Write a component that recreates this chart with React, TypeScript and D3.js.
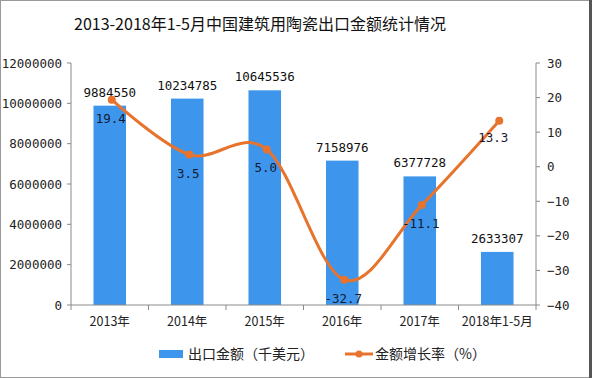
import React from "react";
import * as d3 from "d3";

const categories = ["2013年", "2014年", "2015年", "2016年", "2017年", "2018年1-5月"];
const exportValues = [9884550, 10234785, 10645536, 7158976, 6377728, 2633307];
const growthRates = [19.4, 3.5, 5.0, -32.7, -11.1, 13.3];
const leftTicks = [0, 2000000, 4000000, 6000000, 8000000, 10000000, 12000000];
const rightTicks = [-40, -30, -20, -10, 0, 10, 20, 30];
const rateLabelOffsets: [number, number][] = [[0, 0], [0, 0], [0, 0], [0, 0], [0, 0], [-5, -2]];

const W = 592, H = 378;
const L = 71, R = 536, T = 63, B = 305;
const numFont = "'DejaVu Sans Mono', 'Liberation Mono', monospace";
const cjkFont = "'Noto Sans CJK SC', 'Noto Sans', sans-serif";

export default function App() {
  const x = d3.scaleBand<string>().domain(categories).range([L, R]).paddingInner(0).paddingOuter(0);
  const yL = d3.scaleLinear().domain([0, 12000000]).range([B, T]);
  const yR = d3.scaleLinear().domain([-40, 30]).range([B, T]);
  const bw = x.bandwidth() * 0.42;
  const cx = (c: string) => (x(c) as number) + x.bandwidth() / 2;
  const pts: [number, number][] = categories.map((c, i) => [cx(c) + 2, yR(growthRates[i])]);
  const line = d3.line().curve(d3.curveCatmullRom.alpha(0))(pts) as string;
  const barColor = "#3d96ec";
  const lineColor = "#e8732c";
  const axisColor = "#8a8a8a";

  return (
    <svg width={W} height={H} style={{ position: "absolute", left: 0, top: 0, background: "#fff" }}>
      <rect x={0.5} y={0.5} width={W - 3} height={H - 1} fill="#fff" stroke="#9a9a9a" />
      <rect x={W - 3} y={0} width={3} height={H} fill="#555" />
      <text x={260} y={30} textAnchor="middle" fontFamily={cjkFont} fontSize={16} fill="#111">
        2013-2018年1-5月中国建筑用陶瓷出口金额统计情况
      </text>

      {categories.map((c, i) => (
        <rect key={c} x={cx(c) - bw / 2} y={yL(exportValues[i])} width={bw} height={B - yL(exportValues[i])} fill={barColor} />
      ))}

      {/* left axis */}
      <line x1={L} x2={L} y1={T} y2={B} stroke={axisColor} />
      {leftTicks.map(t => (
        <g key={t}>
          <line x1={L - 4} x2={L} y1={yL(t)} y2={yL(t)} stroke={axisColor} />
          <text x={L - 9} y={yL(t) + 4.5} textAnchor="end" fontFamily={numFont} fontSize={12.5} fill="#222">{t}</text>
        </g>
      ))}
      {/* right axis */}
      <line x1={R} x2={R} y1={T} y2={B} stroke={axisColor} />
      {rightTicks.map(t => (
        <g key={t}>
          <line x1={R} x2={R + 4} y1={yR(t)} y2={yR(t)} stroke={axisColor} />
          <text x={R + 11} y={yR(t) + 4.5} textAnchor="start" fontFamily={numFont} fontSize={12.5} fill="#222">{t < 0 ? "−" + Math.abs(t) : t}</text>
        </g>
      ))}
      {/* x axis */}
      <line x1={L} x2={R} y1={B} y2={B} stroke={axisColor} />
      {categories.concat([""]).map((c, i) => {
        const xx = L + i * x.bandwidth();
        return <line key={"t" + i} x1={xx} x2={xx} y1={B} y2={B + 5} stroke={axisColor} />;
      })}
      {categories.map(c => (
        <text key={"l" + c} x={cx(c)} y={326} textAnchor="middle" fontFamily={cjkFont} fontSize={12.5} fill="#222">{c}</text>
      ))}

      {/* bar labels */}
      {categories.map((c, i) => (
        <text key={"v" + c} x={cx(c)} y={yL(exportValues[i]) - 9} textAnchor="middle" fontFamily={numFont} fontSize={12.5} fill="#111">{exportValues[i]}</text>
      ))}

      <path d={line} fill="none" stroke={lineColor} strokeWidth={3} strokeLinecap="round" />
      {pts.map((p, i) => (
        <circle key={"p" + i} cx={p[0]} cy={p[1]} r={4} fill={lineColor} />
      ))}
      {pts.map((p, i) => (
        <text key={"r" + i} x={p[0] - 1 + rateLabelOffsets[i][0]} y={p[1] + 23 + rateLabelOffsets[i][1]} textAnchor="middle" fontFamily={numFont} fontSize={12.5} fill="#141a33">
          {growthRates[i].toFixed(1)}
        </text>
      ))}

      {/* legend */}
      <rect x={159} y={350} width={24} height={8} fill={barColor} />
      <text x={188} y={359} fontFamily={cjkFont} fontSize={14} fill="#222">出口金额（千美元）</text>
      <line x1={345} x2={373} y1={354} y2={354} stroke={lineColor} strokeWidth={3} />
      <circle cx={359} cy={354} r={3.5} fill={lineColor} />
      <text x={375} y={359} fontFamily={cjkFont} fontSize={14} fill="#222">金额增长率（%）</text>
    </svg>
  );
}
